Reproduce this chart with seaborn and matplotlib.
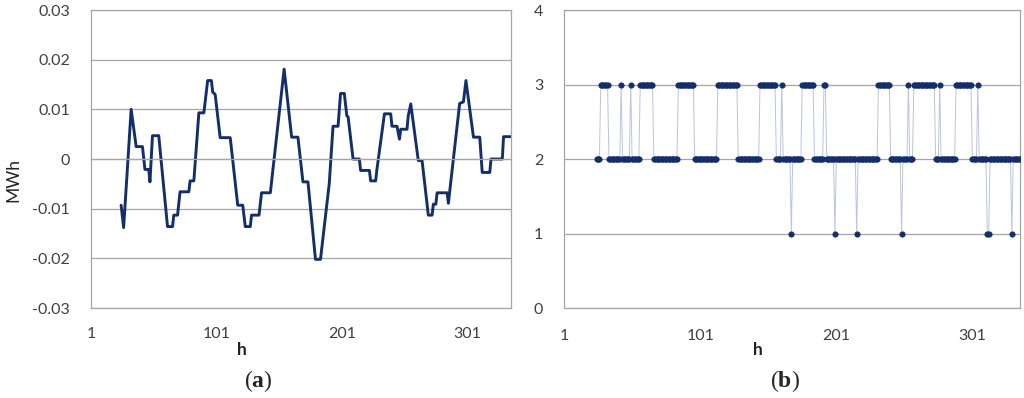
import numpy as np
import matplotlib
matplotlib.use('Agg')
import matplotlib.pyplot as plt
import seaborn as sns

# (a) hourly energy deviation, read at the corners of the step-like curve
h_a = [25, 27, 33, 37, 42, 44, 47, 48, 50, 55, 62, 66, 67, 70, 72, 79, 80, 83, 87, 91,
       94, 97, 98, 100, 104, 112, 118, 122, 124, 128, 129, 135, 137, 144, 155, 161, 166,
       170, 174, 180, 184, 191, 194, 198, 200, 203, 205, 206, 210, 215, 216, 223, 224,
       228, 229, 235, 240, 241, 245, 247, 248, 253, 254, 256, 262, 265, 270, 273, 274,
       276, 277, 285, 286, 295, 298, 300, 306, 311, 313, 319, 320, 329, 330, 336]
mwh_a = [-0.0093, -0.0138, 0.0100, 0.0025, 0.0025, -0.0021, -0.0021, -0.0046, 0.0047,
         0.0047, -0.0136, -0.0136, -0.0113, -0.0113, -0.0066, -0.0066, -0.0044, -0.0044,
         0.0093, 0.0093, 0.0158, 0.0158, 0.0135, 0.0130, 0.0043, 0.0043, -0.0093, -0.0093,
         -0.0136, -0.0136, -0.0113, -0.0113, -0.0068, -0.0068, 0.0181, 0.0044, 0.0044,
         -0.0046, -0.0046, -0.0202, -0.0202, -0.0049, 0.0066, 0.0066, 0.0132, 0.0132,
         0.0087, 0.0085, 0.0, 0.0, -0.0023, -0.0023, -0.0044, -0.0044, -0.0021, 0.0091,
         0.0091, 0.0066, 0.0066, 0.0040, 0.0060, 0.0060, 0.0087, 0.0111, -0.0003, -0.0003,
         -0.0113, -0.0113, -0.0091, -0.0091, -0.0068, -0.0068, -0.0089, 0.0112, 0.0115,
         0.0158, 0.0044, 0.0044, -0.0027, -0.0027, 0.0, 0.0, 0.0045, 0.0045]

# (b) hourly level, stored as runs starting at h = 25
first_h_b = 25
run_level_b = [2, 3, 2, 3, 2, 3, 2, 3, 2, 3, 2, 3, 2, 3, 2, 3, 2, 1, 2, 3, 2, 3, 2, 1,
               2, 1, 2, 3, 2, 1, 2, 3, 2, 3, 2, 3, 2, 3, 2, 3, 2, 1, 2, 1, 2]
run_len_b = [3, 6, 9, 1, 6, 1, 6, 10, 18, 12, 17, 15, 16, 12, 4, 1, 6, 1, 7, 9, 7, 2, 6, 1,
             15, 1, 15, 9, 8, 1, 4, 1, 3, 16, 3, 1, 11, 12, 4, 1, 6, 2, 16, 1, 6]

level_b = np.repeat(run_level_b, run_len_b)
h_b = first_h_b + np.arange(len(level_b))

x_ticks = [1, 101, 201, 301]

sns.set_style('white')
plt.rcParams['font.family'] = ['Lato', 'DejaVu Sans']
plt.rcParams['mathtext.fontset'] = 'custom'
plt.rcParams['mathtext.bf'] = 'Liberation Serif:bold'
plt.rcParams['mathtext.rm'] = 'Liberation Serif'

navy = '#132f6b'
grid = '#a6a6a6'
txt = '#404040'
fs = 11.5

fig = plt.figure(figsize=(10.24, 3.98), dpi=100)
ax1 = fig.add_axes([0.0889, 0.2261, 0.4102, 0.7487])
ax2 = fig.add_axes([0.5508, 0.2261, 0.4453, 0.7487])

# 左图
sns.lineplot(x=h_a, y=mwh_a, ax=ax1, color=navy, linewidth=2.1)
ax1.set_xlim(1, 336)
ax1.set_ylim(-0.03, 0.03)
yt = [-0.03, -0.02, -0.01, 0, 0.01, 0.02, 0.03]
ax1.set_yticks(yt)
ax1.set_yticklabels(['-0.03', '-0.02', '-0.01', '0', '0.01', '0.02', '0.03'])
ax1.yaxis.grid(True, color=grid, linewidth=0.9)
for s in ax1.spines.values():
    s.set_color(grid)
    s.set_linewidth(0.9)
ax1.spines['bottom'].set_position(('data', 0))
ax1.set_xticks(x_ticks)
ax1.tick_params(axis='x', direction='out', length=3, color=grid, labelbottom=False)
ax1.tick_params(axis='y', direction='out', length=5, color=grid, pad=10,
                labelsize=fs, labelcolor=txt)
sec = ax1.secondary_xaxis('bottom')
sec.set_xticks(x_ticks)
sec.tick_params(length=0, pad=14, labelsize=fs, labelcolor=txt)
sec.spines['bottom'].set_color(grid)
sec.spines['bottom'].set_linewidth(0.9)
ax1.set_xlabel('')
ax1.set_ylabel('')

# 右图
sns.lineplot(x=h_b, y=level_b, ax=ax2, color='#b9c5dd', linewidth=0.7)
sns.scatterplot(x=h_b, y=level_b, ax=ax2, color=navy, s=15, edgecolor=navy,
                linewidth=0.5, zorder=3)
ax2.set_xlim(1, 336)
ax2.set_ylim(0, 4)
ax2.set_yticks([0, 1, 2, 3, 4])
ax2.set_xticks(x_ticks)
ax2.yaxis.grid(True, color=grid, linewidth=0.9)
for s in ax2.spines.values():
    s.set_color(grid)
    s.set_linewidth(0.9)
ax2.tick_params(axis='x', direction='out', length=5, color=grid, pad=10,
                labelsize=fs, labelcolor=txt)
ax2.tick_params(axis='y', direction='out', length=5, color=grid, pad=10,
                labelsize=fs, labelcolor=txt)
ax2.set_xlabel('')
ax2.set_ylabel('')

# 轴标题和子图编号
fig.text(242 / 1024, 1 - 350 / 398, 'h', ha='center', va='center',
         fontsize=12.5, fontweight='bold', color='#222222')
fig.text(758 / 1024, 1 - 350 / 398, 'h', ha='center', va='center',
         fontsize=12.5, fontweight='bold', color='#222222')
fig.text(13 / 1024, 1 - 180 / 398, 'MWh', ha='center', va='center', rotation=90,
         fontsize=12.5, color='#222222')
fig.text(258 / 1024, 1 - 381 / 398, r'($\mathbf{a}$)', ha='center', va='center',
         fontsize=17, family='Liberation Serif')
fig.text(785 / 1024, 1 - 381 / 398, r'($\mathbf{b}$)', ha='center', va='center',
         fontsize=17, family='Liberation Serif')

plt.savefig('out.png', dpi=100)
